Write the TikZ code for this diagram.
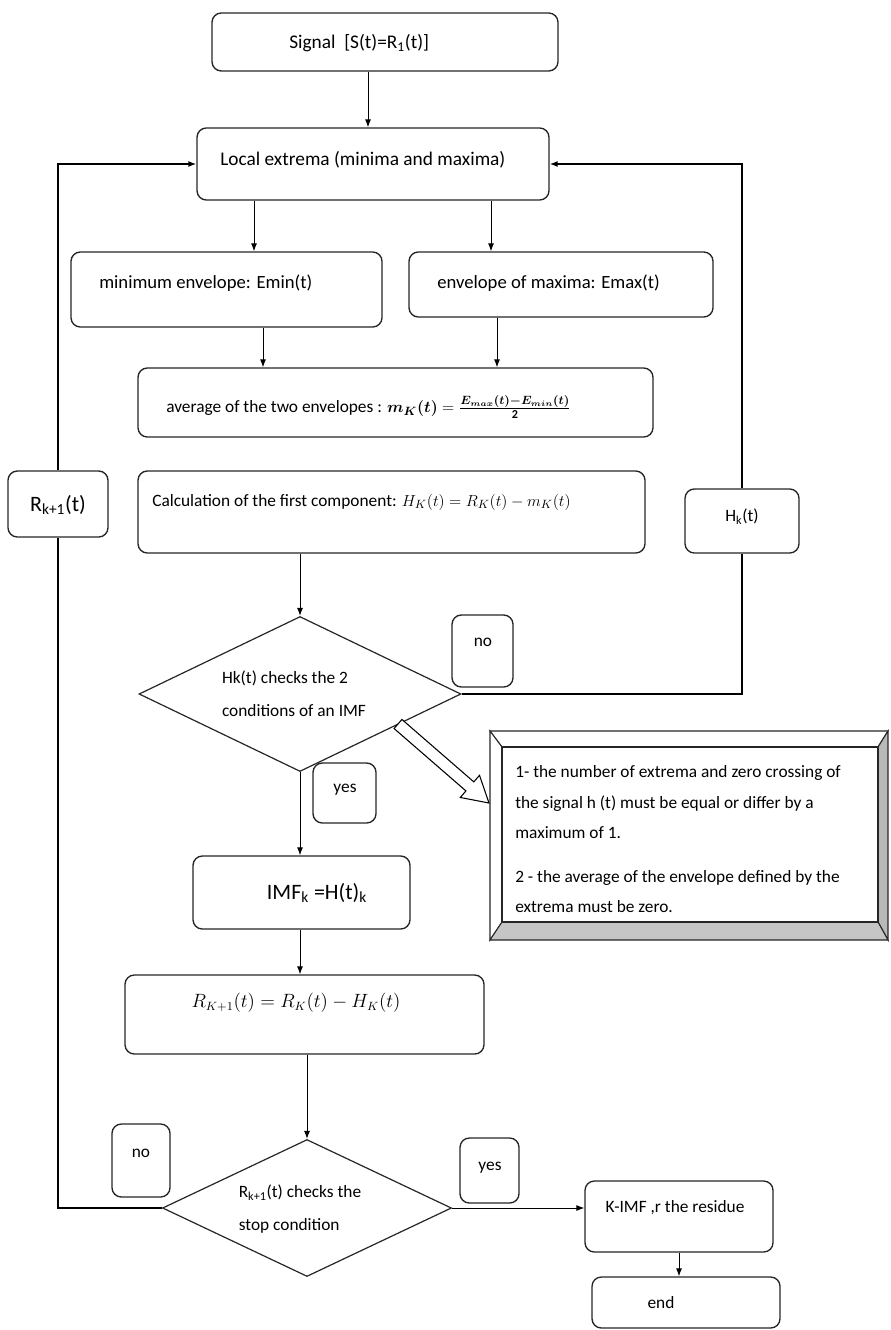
\documentclass[tikz,border=0pt]{standalone}
\usepackage{amsmath}
\usepackage{fontspec}
\setmainfont{Carlito}
\usetikzlibrary{shapes.geometric,arrows.meta,calc,fit}
\begin{document}
\begin{tikzpicture}[x=0.75pt,y=-0.75pt,
  font=\fontsize{13}{15}\selectfont,
  box/.style={draw=black!85, line width=1pt, rounded corners=7pt, fill=white, inner sep=0pt},
  dia/.style={draw=black!85, line width=0.9pt, shape=diamond, inner sep=0pt, fill=white},
  txt/.style={inner sep=0pt, anchor=west},
  ctxt/.style={inner sep=0pt},
  arr/.style={line width=0.7pt, -{Latex[length=6pt,width=4.5pt]}},
  loopline/.style={line width=1.1pt},
  looparr/.style={line width=1.1pt, -{Latex[length=6pt,width=4.5pt]}}
]
\useasboundingbox (0,0) rectangle (890,1330);

% ---------- boxes ----------
\node[box, fit={(212,13) (558,71)}] (sig) {};
\node[box, fit={(197,128) (549,200)}] (loc) {};
\node[box, fit={(71,252) (382,327)}] (minenv) {};
\node[box, fit={(409,252) (713,317)}] (maxenv) {};
\node[box, fit={(138,368) (653,437)}] (avg) {};
\node[box, fit={(8,471) (108,537)}] (rk) {};
\node[box, fit={(138,471) (645,553)}] (calc) {};
\node[box, fit={(685,489) (799,553)}] (hk) {};
\node[dia, minimum width=241.5pt, minimum height=116.25pt] (d1) at (300,694) {};
\node[box, fit={(452,615) (513,687)}] (no1) {};
\node[box, fit={(313,763) (376,823)}] (yes1) {};
\node[box, fit={(193,856) (410,929)}] (imf) {};
\node[box, fit={(125,975) (484,1054)}] (rb) {};
\node[dia, minimum width=216.75pt, minimum height=102.75pt] (d2) at (307,1208) {};
\node[box, fit={(112,1124) (170,1197)}] (no2) {};
\node[box, fit={(460,1138) (519,1203)}] (yes2) {};
\node[box, fit={(585,1181) (773,1252)}] (kimf) {};
\node[box, fit={(592,1277) (780,1328)}] (endb) {};

% ---------- bevelled note ----------
\coordinate (bo1) at (490,731);
\coordinate (bo2) at (888,731);
\coordinate (bo3) at (888,940);
\coordinate (bo4) at (490,940);
\coordinate (bi1) at (502,747);
\coordinate (bi2) at (878,747);
\coordinate (bi3) at (878,922);
\coordinate (bi4) at (502,922);
\begin{scope}[line width=0.8pt, draw=black!85, line join=miter]
\filldraw[fill=white] (bo1) -- (bo2) -- (bi2) -- (bi1) -- cycle;
\filldraw[fill=white] (bo1) -- (bi1) -- (bi4) -- (bo4) -- cycle;
\filldraw[fill=gray!55] (bo2) -- (bo3) -- (bi3) -- (bi2) -- cycle;
\filldraw[fill=gray!45] (bo4) -- (bi4) -- (bi3) -- (bo3) -- cycle;
\draw (bi1) rectangle (bi3);
\end{scope}
\node[fit=(bi1)(bi3), inner sep=0pt] (note) {};

% ---------- texts ----------
\node[txt, font=\fontsize{14.5}{16}\selectfont] (tsig) at (289,43) {Signal\ \ [S(t)=R\textsubscript{1}(t)]};
\node[txt, font=\fontsize{14.5}{16}\selectfont] (tloc) at (220,160) {Local extrema (minima and maxima)};
\node[txt, font=\fontsize{14}{16}\selectfont] (tmin) at (99,283) {minimum envelope: Emin(t)};
\node[txt, font=\fontsize{14}{16}\selectfont] (tmax) at (437,283) {envelope of maxima: Emax(t)};
\node[txt] (tavg) at (166,407) {average of the two envelopes : $\boldsymbol{m_K(t)} = \frac{\boldsymbol{E_{max}(t)-E_{min}(t)}}{\mathbf{2}}$};
\node[ctxt, font=\fontsize{16.5}{18}\selectfont] (trk) at (58,505) {R\textsubscript{k+1}(t)};
\node[txt] (tcalc) at (152,502) {Calculation of the first component: $H_K(t) = R_K(t) - m_K(t)$};
\node[ctxt] (thk) at (742,517) {H\textsubscript{k}(t)};
\node[ctxt, align=left, font=\fontsize{13}{25}\selectfont] (td1) at (294,694) {Hk(t) checks the 2\\conditions of an IMF};
\node[ctxt] (tno1) at (483,642) {no};
\node[ctxt] (tyes1) at (345,790) {yes};
\node[ctxt, font=\fontsize{16.5}{18}\selectfont] (timf) at (317,893) {IMF\textsubscript{k} =H(t)\textsubscript{k}};
\node[ctxt, font=\fontsize{13.5}{15}\selectfont] (trb) at (296,1003) {$R_{K+1}(t) = R_K(t) - H_K(t)$};
\node[ctxt, align=left, font=\fontsize{13}{25}\selectfont] (td2) at (300,1209) {R\textsubscript{k+1}(t) checks the\\stop condition};
\node[ctxt] (tno2) at (141,1153) {no};
\node[ctxt] (tyes2) at (490,1168) {yes};
\node[ctxt] (tkimf) at (675,1208) {K-IMF ,r the residue};
\node[ctxt] (tend) at (661,1303) {end};

\node[anchor=base west, inner sep=0pt] (n1) at (515,777) {1- the number of extrema and zero crossing of};
\node[anchor=base west, inner sep=0pt] (n2) at (515,808) {the signal h (t) must be equal or differ by a};
\node[anchor=base west, inner sep=0pt] (n3) at (515,838) {maximum of 1.};
\node[anchor=base west, inner sep=0pt] (n4) at (515,882) {2 - the average of the envelope defined by the};
\node[anchor=base west, inner sep=0pt] (n5) at (515,912) {extrema must be zero.};

% ---------- connectors ----------
\coordinate (xa) at (368,0);
\coordinate (xb) at (254,0);
\coordinate (xc) at (491,0);
\coordinate (xd) at (263,0);
\coordinate (xe) at (497,0);
\draw[arr] (sig.south -| xa) -- (loc.north -| xa);
\draw[arr] (loc.south -| xb) -- (minenv.north -| xb);
\draw[arr] (loc.south -| xc) -- (maxenv.north -| xc);
\draw[arr] (minenv.south -| xd) -- (avg.north -| xd);
\draw[arr] (maxenv.south -| xe) -- (avg.north -| xe);
\draw[arr] (calc.south -| d1.north) -- (d1.north);
\draw[arr] (d1.south) -- (d1.south |- imf.north);
\draw[arr] (imf.south -| d1.south) -- (rb.north -| d1.south);
\draw[arr] (rb.south -| d2.north) -- (d2.north);
\draw[arr] (d2.east) -- (d2.east -| kimf.west);
\draw[arr] (kimf.south) -- (kimf.south |- endb.north);

% feedback loops
\draw[loopline] (d1.east) -| (hk.south);
\draw[looparr] (hk.north) |- (loc.east);
\draw[loopline] (d2.west) -| (rk.south);
\draw[looparr] (rk.north) |- (loc.west);

% hollow arrow to the note
\coordinate (hs) at (398,724);
\coordinate (ht) at (489,803);
\coordinate (hb) at ($(ht)!19pt!(hs)$);
\draw[line width=0.8pt, fill=white, line join=miter]
  ($(hs)!4.5pt!90:(ht)$) -- ($(hb)!4.5pt!-90:(hs)$) -- ($(hb)!11pt!-90:(hs)$) -- (ht)
  -- ($(hb)!11pt!90:(hs)$) -- ($(hb)!4.5pt!90:(hs)$) -- ($(hs)!4.5pt!-90:(ht)$) -- cycle;
\end{tikzpicture}
\end{document}
